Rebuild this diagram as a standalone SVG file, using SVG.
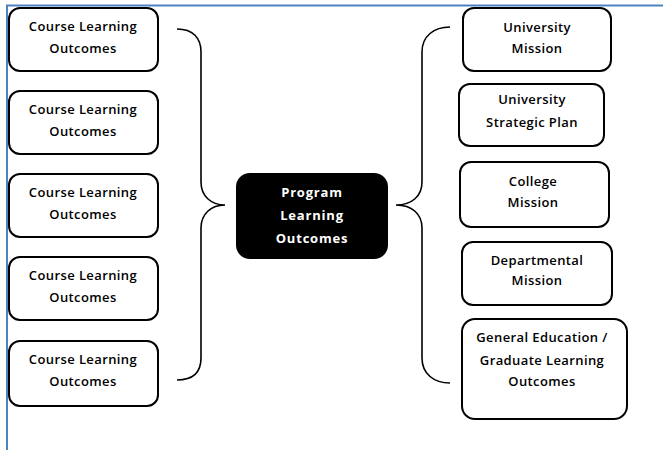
<svg xmlns="http://www.w3.org/2000/svg" width="663" height="450" viewBox="0 0 663 450">
  <style>
    .box { fill: #ffffff; stroke: #000000; stroke-width: 2; }
    .core { fill: #000000; stroke: #000000; stroke-width: 2; }
    .lbl { font-family: "Open Sans", "Liberation Sans", sans-serif; font-size: 13px; font-weight: 600; fill: #000000; text-anchor: middle; letter-spacing: 0.4px; }
    .lblw { font-family: "Open Sans", "Liberation Sans", sans-serif; font-size: 13px; font-weight: 700; fill: #ffffff; text-anchor: middle; letter-spacing: 0.8px; }
    .brace { fill: none; stroke: #000000; stroke-width: 1.6; }
    .frame { stroke: #4f81bd; stroke-width: 2; fill: none; }
  </style>

  <rect width="663" height="450" fill="#ffffff"/>
  <!-- page frame -->
  <path class="frame" d="M7,450 V5.5 H663"/>

  <!-- left column -->
  <g id="clo-1"><rect class="box" x="9" y="8" width="149" height="63" rx="11"/>
    <text class="lbl" x="83" y="31">Course Learning</text><text class="lbl" x="83" y="53">Outcomes</text></g>
  <g id="clo-2"><rect class="box" x="9" y="91" width="149" height="63" rx="11"/>
    <text class="lbl" x="83" y="114">Course Learning</text><text class="lbl" x="83" y="136">Outcomes</text></g>
  <g id="clo-3"><rect class="box" x="9" y="174" width="149" height="63" rx="11"/>
    <text class="lbl" x="83" y="197">Course Learning</text><text class="lbl" x="83" y="219">Outcomes</text></g>
  <g id="clo-4"><rect class="box" x="9" y="257" width="149" height="63" rx="11"/>
    <text class="lbl" x="83" y="280">Course Learning</text><text class="lbl" x="83" y="302">Outcomes</text></g>
  <g id="clo-5"><rect class="box" x="9" y="341" width="149" height="65" rx="11"/>
    <text class="lbl" x="83" y="364">Course Learning</text><text class="lbl" x="83" y="386">Outcomes</text></g>

  <!-- centre -->
  <g id="plo"><rect class="core" x="237" y="174" width="150" height="84" rx="13"/>
    <text class="lblw" x="312" y="197">Program</text>
    <text class="lblw" x="312" y="220">Learning</text>
    <text class="lblw" x="312" y="243">Outcomes</text></g>

  <!-- right column -->
  <g id="univ-mission"><rect class="box" x="463" y="8" width="148" height="63" rx="11"/>
    <text class="lbl" x="537" y="32">University</text><text class="lbl" x="537" y="53">Mission</text></g>
  <g id="univ-plan"><rect class="box" x="459" y="84" width="145" height="62" rx="11"/>
    <text class="lbl" x="532" y="104">University</text><text class="lbl" x="532" y="127">Strategic Plan</text></g>
  <g id="college-mission"><rect class="box" x="460" y="162" width="149" height="65" rx="11"/>
    <text class="lbl" x="533" y="186">College</text><text class="lbl" x="533" y="207">Mission</text></g>
  <g id="dept-mission"><rect class="box" x="462" y="242" width="150" height="63" rx="11"/>
    <text class="lbl" x="537" y="265">Departmental</text><text class="lbl" x="537" y="285">Mission</text></g>
  <g id="gen-ed"><rect class="box" x="462" y="319" width="165" height="100" rx="13"/>
    <text class="lbl" x="542" y="342">General Education /</text>
    <text class="lbl" x="542" y="365">Graduate Learning</text>
    <text class="lbl" x="542" y="386">Outcomes</text></g>

  <!-- connectors: grouping braces -->
  <g id="connectors">
    <path class="brace" d="M177,29 C193,29 201,38 201,52 V182 C201,196 211,205 225,205 C211,205 201,214 201,228 V358 C201,372 193,380 177,380"/>
    <path class="brace" d="M450,27 C434,27 422,36 422,52 V182 C422,196 412,205 396,205 C412,205 422,214 422,228 V358 C422,374 434,383 450,383"/>
  </g>
</svg>
